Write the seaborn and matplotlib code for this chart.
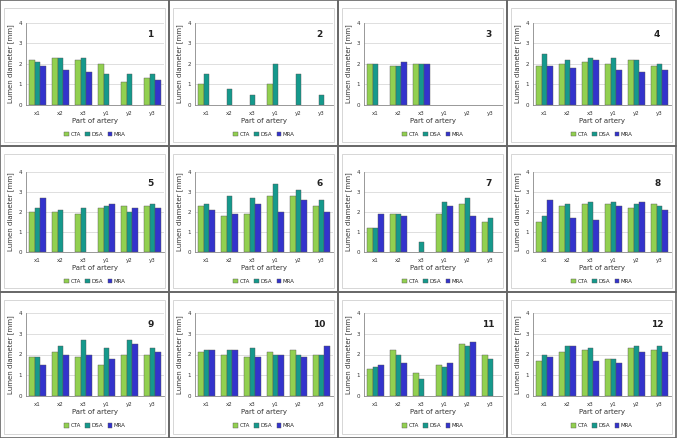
import numpy as np
import pandas as pd
import seaborn as sns
import matplotlib.pyplot as plt
from matplotlib.patches import Rectangle

nan = np.nan
parts = ['x1', 'x2', 'x3', 'y1', 'y2', 'y3']
methods = ['CTA', 'DSA', 'MRA']

# values per panel: CTA, DSA, MRA (mm), nan = not measured
cta = [
    [2.2, 2.3, 2.2, 2.0, 1.1, 1.3],
    [1.0, nan, nan, 1.0, nan, nan],
    [2.0, 1.9, 2.0, nan, nan, nan],
    [1.9, 2.0, 2.1, 2.0, 2.2, 1.9],
    [2.0, 2.0, 1.9, 2.2, 2.3, 2.3],
    [2.3, 1.8, 1.9, 2.8, 2.8, 2.3],
    [1.2, 1.9, nan, 1.9, 2.4, 1.5],
    [1.5, 2.3, 2.4, 2.4, 2.2, 2.4],
    [1.9, 2.1, 1.9, 1.5, 2.0, 2.0],
    [2.1, 2.0, 1.9, 2.1, 2.2, 2.0],
    [1.3, 2.2, 1.1, 1.5, 2.5, 2.0],
    [1.7, 2.1, 2.2, 1.8, 2.3, 2.2],
]
dsa = [
    [2.1, 2.3, 2.3, 1.5, 1.5, 1.5],
    [1.5, 0.8, 0.5, 2.0, 1.5, 0.5],
    [2.0, 1.9, 2.0, nan, nan, nan],
    [2.5, 2.2, 2.3, 2.3, 2.2, 2.0],
    [2.2, 2.1, 2.2, 2.3, 2.0, 2.4],
    [2.4, 2.8, 2.7, 3.4, 3.1, 2.6],
    [1.2, 1.9, 0.5, 2.5, 2.7, 1.7],
    [1.8, 2.4, 2.5, 2.5, 2.4, 2.3],
    [1.9, 2.4, 2.7, 2.3, 2.7, 2.3],
    [2.2, 2.2, 2.3, 2.0, 2.0, 2.0],
    [1.4, 2.0, 0.8, 1.4, 2.4, 1.8],
    [2.0, 2.4, 2.3, 1.8, 2.4, 2.4],
]
mra = [
    [1.9, 1.7, 1.6, nan, nan, 1.2],
    [nan, nan, nan, nan, nan, nan],
    [nan, 2.1, 2.0, nan, nan, nan],
    [1.9, 1.8, 2.2, 1.7, 1.6, 1.7],
    [2.7, nan, nan, 2.4, 2.2, 2.2],
    [2.1, 1.9, 2.4, 2.0, 2.6, 2.0],
    [1.9, 1.8, nan, 2.3, 1.8, nan],
    [2.6, 1.7, 1.6, 2.3, 2.5, 2.1],
    [1.5, 2.0, 2.0, 1.8, 2.5, 2.1],
    [2.2, 2.2, 1.9, 2.0, 1.9, 2.4],
    [1.5, 1.6, nan, 1.6, 2.6, nan],
    [1.9, 2.4, 1.7, 1.6, 2.1, 2.1],
]

palette = {'CTA': '#92D050', 'DSA': '#15998C', 'MRA': '#3333CC'}

sns.set_theme(style='white')
plt.rcParams['font.family'] = ['DejaVu Sans']

W, H = 677, 438
fig = plt.figure(figsize=(W / 100, H / 100), dpi=100)
fig.patch.set_facecolor('white')

col_x = [0, 169, 338, 507]
row_y = [0, 146, 292]
row_top = [23, 172, 313]
row_bot = [105, 252, 396]

for i in range(12):
    r, c = divmod(i, 4)
    x0, y0 = col_x[c], row_y[r]
    # panel frames
    fig.add_artist(Rectangle((x0 / W, 1 - (y0 + 146) / H), 169 / W, 146 / H,
                             transform=fig.transFigure, fill=False,
                             edgecolor='#666666', lw=1.2))
    fig.add_artist(Rectangle(((x0 + 4) / W, 1 - (y0 + 142) / H), 161 / W, 134 / H,
                             transform=fig.transFigure, fill=False,
                             edgecolor='#d0d0d0', lw=0.6))

    top, bot = row_top[r], row_bot[r]
    ax = fig.add_axes([(x0 + 26) / W, 1 - bot / H, 138 / W, (bot - top) / H])

    df = pd.DataFrame({
        'part': parts * 3,
        'method': np.repeat(methods, 6),
        'value': cta[i] + dsa[i] + mra[i],
    })
    sns.barplot(data=df, x='part', y='value', hue='method', order=parts,
                hue_order=methods, palette=palette, width=0.77, ax=ax,
                edgecolor='#555555', linewidth=0.3, saturation=1, errorbar=None)

    ax.set_ylim(0, 4)
    ax.set_yticks([0, 1, 2, 3, 4])
    ax.yaxis.grid(True, color='#d9d9d9', lw=0.6)
    ax.set_axisbelow(True)
    for s in ['top', 'right']:
        ax.spines[s].set_visible(False)
    for s in ['left', 'bottom']:
        ax.spines[s].set_color('#888888')
        ax.spines[s].set_linewidth(0.6)
    ax.tick_params(axis='both', labelsize=4, length=1.5, width=0.4,
                   colors='#333333', pad=1.5)
    ax.tick_params(axis='x', length=0, pad=4)
    ax.set_xlabel('Part of artery', fontsize=5, labelpad=2, color='#333333')
    ax.set_ylabel('Lumen diameter [mm]', fontsize=5, labelpad=3, color='#333333')
    ax.text(0.9, 0.86, str(i + 1), transform=ax.transAxes, fontsize=6.5,
            fontweight='bold', ha='center', va='center', color='#222222')
    sns.move_legend(ax, 'upper center', bbox_to_anchor=(0.5, -0.27), ncol=3,
                    frameon=False, title=None, fontsize=4, handlelength=0.8,
                    handleheight=0.8, handletextpad=0.3, columnspacing=0.8)

fig.savefig('out.png', dpi=100)
